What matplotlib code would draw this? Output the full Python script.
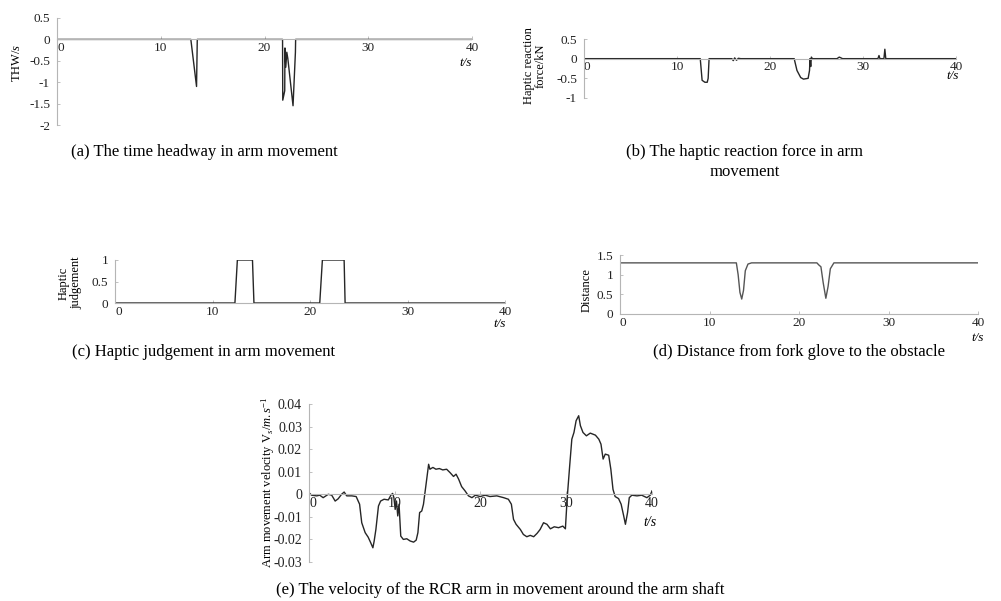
import matplotlib
matplotlib.use("Agg")
import matplotlib.pyplot as plt
from matplotlib.ticker import FormatStrFormatter

plt.rcParams['font.family'] = ['Liberation Serif', 'DejaVu Serif']
plt.rcParams['mathtext.fontset'] = 'custom'
plt.rcParams['mathtext.rm'] = 'Liberation Serif'
plt.rcParams['mathtext.it'] = 'Liberation Serif:italic'
plt.rcParams['axes.unicode_minus'] = False

# (a) time headway
thw_t = [0, 12.9, 13.45, 13.52, 21.74, 21.76, 21.95, 21.97, 22.05, 22.15, 22.25, 22.75, 22.98, 23.0, 40]
thw_v = [0, 0, -1.1, 0, 0, -1.42, -1.2, -0.2, -0.65, -0.3, -0.45, -1.55, -0.3, 0, 0]

# (b) haptic reaction force
force_t = [0, 12.5, 12.7, 13.0, 13.25, 13.35, 13.45, 15.9, 16.05, 16.2, 16.4, 16.6, 16.85,
           22.6, 22.9, 23.3, 23.6, 24.1, 24.25, 24.3, 24.38, 24.45, 24.55,
           27.2, 27.45, 27.8, 31.6, 31.72, 31.82, 32.25, 32.35, 32.45, 40]
force_v = [0, 0, -0.55, -0.6, -0.6, -0.5, 0, 0, -0.05, 0.02, -0.04, 0.01, 0,
           0, -0.3, -0.48, -0.52, -0.5, -0.3, 0, -0.2, 0.04, 0,
           0, 0.04, 0, 0, 0.08, 0, 0, 0.24, 0, 0]

# (c) haptic judgement
judge_t = [0, 12.3, 12.55, 14.1, 14.25, 21.0, 21.27, 23.5, 23.6, 40]
judge_v = [0, 0, 1, 1, 0, 0, 1, 1, 0, 0]

# (d) distance to obstacle
dist_t = [0, 13.0, 13.2, 13.4, 13.6, 13.8, 14.0, 14.3, 14.7, 22.0, 22.2, 22.45, 22.7, 23.0, 23.25, 23.5, 23.9, 40]
dist_v = [1.3, 1.3, 1.0, 0.55, 0.38, 0.6, 1.1, 1.27, 1.3, 1.3, 1.25, 1.2, 0.8, 0.4, 0.7, 1.15, 1.3, 1.3]

# (e) arm velocity
vel_t = [0, 0.3, 0.9, 1.25, 1.65, 2.25, 2.65, 3.05, 3.4, 3.8, 4.1, 4.4, 5.0, 5.5, 5.9, 6.15, 6.55, 6.9,
         7.2, 7.45, 7.6, 7.8, 8.1, 8.35, 8.75, 9.25, 9.55, 9.75, 9.9, 10.05, 10.2, 10.35, 10.5, 10.7,
         11.0, 11.4, 11.8, 12.2, 12.5, 12.7, 12.9, 13.15, 13.35, 13.65, 13.95, 14.1, 14.45, 14.8, 15.2,
         15.6, 16.05, 16.45, 16.85, 17.15, 17.45, 17.8, 18.2, 18.6, 19.0, 19.4, 19.95, 20.55, 21.1,
         21.9, 22.7, 23.25, 23.6, 23.85, 24.15, 24.65, 25.0, 25.4, 25.8, 26.2, 26.6, 26.95, 27.35,
         27.75, 28.15, 28.6, 29.1, 29.6, 29.9, 30.1, 30.4, 30.65, 30.9, 31.15, 31.45, 31.65, 31.95,
         32.35, 32.8, 33.4, 33.8, 34.05, 34.3, 34.55, 34.95, 35.2, 35.45, 35.7, 36.1, 36.4, 36.7,
         36.9, 37.15, 37.35, 37.65, 38.25, 38.8, 39.4, 39.8, 40.0]
vel_v = [0.0007, -0.0004, -0.0007, -0.0004, -0.0015, 0.0, -0.0004, -0.003, -0.002, 0.0, 0.001,
         -0.0007, -0.0007, -0.001, -0.0044, -0.0126, -0.017, -0.019, -0.0215, -0.0237, -0.0207,
         -0.0156, -0.0052, -0.003, -0.0022, -0.0025, -0.0004, 0.0004, -0.0015, -0.0067, -0.003,
         -0.0096, -0.0044, -0.0185, -0.02, -0.0197, -0.0207, -0.0212, -0.0203, -0.017, -0.0081,
         -0.0074, -0.0044, 0.0044, 0.0133, 0.0111, 0.0119, 0.0111, 0.0114, 0.0108, 0.0111, 0.0096,
         0.0079, 0.0089, 0.0067, 0.0034, 0.0015, -0.0007, -0.0015, -0.0004, -0.001, -0.0004, -0.001,
         -0.0007, -0.0015, -0.0022, -0.0044, -0.0111, -0.0133, -0.0156, -0.0178, -0.0188, -0.0182,
         -0.0188, -0.0173, -0.0156, -0.0126, -0.0133, -0.0153, -0.0144, -0.0148, -0.0141, -0.0153,
         -0.0022, 0.0126, 0.0244, 0.0274, 0.0326, 0.0348, 0.0304, 0.0274, 0.0259, 0.0271, 0.0262,
         0.0244, 0.0222, 0.0156, 0.0178, 0.0173, 0.0111, 0.0022, -0.001, -0.0019, -0.0044, -0.0096,
         -0.0133, -0.0081, -0.0015, -0.0004, -0.0007, -0.0004, -0.0015, -0.0004, 0.0015]

x_ticks = [0, 10, 20, 30, 40]

W, H = 1001, 601
AXC = '#b5b5b5'
LINE = '#262626'

fig = plt.figure(figsize=(W / 100, H / 100), dpi=100)


def px_axes(left, right, top, bottom):
    return fig.add_axes([left / W, 1 - bottom / H, (right - left) / W, (bottom - top) / H])


def style(ax, ylim, yticks, size=9.5):
    ax.set_xlim(0, 40)
    ax.set_ylim(ylim)
    ax.patch.set_alpha(0)
    ax.spines['top'].set_visible(False)
    ax.spines['right'].set_visible(False)
    for s in ['left', 'bottom']:
        ax.spines[s].set_color(AXC)
        ax.spines[s].set_linewidth(0.8)
    ax.spines['bottom'].set_position(('data', 0))
    ax.set_xticks(x_ticks)
    ax.set_yticks(yticks)
    ax.xaxis.set_major_formatter(FormatStrFormatter('%g'))
    ax.yaxis.set_major_formatter(FormatStrFormatter('%g'))
    ax.tick_params(length=2.5, width=0.6, color=AXC, labelsize=size,
                   direction='in', labelcolor='#222222')
    ax.tick_params(axis='y', pad=5)
    ax.tick_params(axis='x', pad=2)
    ax.get_xticklabels()[0].set_ha('left')


def fig_text(x, y, s, **kw):
    fig.text(x / W, 1 - y / H, s, **kw)


# (a)
ax = px_axes(57, 472, 18, 125)
ax.plot(thw_t, thw_v, color=LINE, lw=1.0)
style(ax, (-2, 0.5), [0.5, 0, -0.5, -1, -1.5, -2])
fig_text(17, 63, 'THW/$s$', rotation=90, ha='center', va='center', fontsize=9)
fig_text(466, 63, 't/s', style='italic', ha='center', va='center', fontsize=9.5)

# (b)
ax = px_axes(584, 956, 39, 98)
ax.plot(force_t, force_v, color=LINE, lw=1.0)
style(ax, (-1, 0.5), [0.5, 0, -0.5, -1])
fig_text(535, 66, 'Haptic reaction\nforce/kN', rotation=90, ha='center', va='center',
         fontsize=9, linespacing=1.0)
fig_text(953, 76, 't/s', style='italic', ha='center', va='center', fontsize=9.5)

# (c)
ax = px_axes(115, 505, 260, 303)
ax.plot(judge_t, judge_v, color=LINE, lw=1.0)
style(ax, (0, 1), [0, 0.5, 1])
fig_text(70, 283, 'Haptic\njudgement', rotation=90, ha='center', va='center',
         fontsize=9, linespacing=1.0)
fig_text(500, 324, 't/s', style='italic', ha='center', va='center', fontsize=9.5)

# (d)
ax = px_axes(620, 978, 255, 314)
ax.plot(dist_t, dist_v, color='#555555', lw=1.0)
style(ax, (0, 1.5), [0, 0.5, 1, 1.5])
fig_text(587, 290, 'Distance', rotation=90, ha='center', va='center', fontsize=9)
fig_text(978, 338, 't/s', style='italic', ha='center', va='center', fontsize=9.5)

# (e)
ax = px_axes(309, 652, 404, 562)
ax.plot(vel_t, vel_v, color=LINE, lw=1.0)
style(ax, (-0.03, 0.04), [0.04, 0.03, 0.02, 0.01, 0, -0.01, -0.02, -0.03], size=10)
fig_text(268, 482, 'Arm movement velocity V$_s$/$m.s^{-1}$', rotation=90, ha='center',
         va='center', fontsize=9)
fig_text(650, 522, 't/s', style='italic', ha='center', va='center', fontsize=10)

# captions
cap = dict(ha='center', va='center', fontsize=12)
fig_text(204, 152, '(a) The time headway in arm movement', **cap)
fig_text(745, 152, '(b) The haptic reaction force in arm', **cap)
fig_text(745, 172, 'movement', **cap)
fig_text(204, 352, '(c) Haptic judgement in arm movement', **cap)
fig_text(799, 352, '(d) Distance from fork glove to the obstacle', **cap)
fig_text(500, 590, '(e) The velocity of the RCR arm in movement around the arm shaft', **cap)

fig.savefig('out.png', dpi=100)
